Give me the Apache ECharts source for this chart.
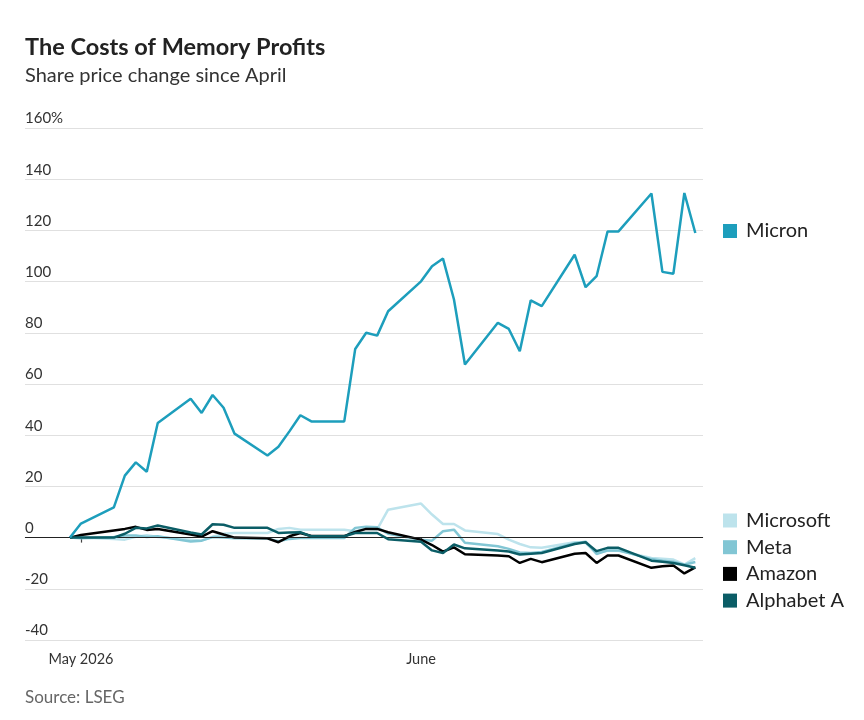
<!DOCTYPE html>
<html>
<head>
<meta charset="utf-8">
<title>The Costs of Memory Profits</title>
<script src="https://cdn.jsdelivr.net/npm/echarts@6/dist/echarts.min.js"></script>
<style>
  html, body { margin: 0; padding: 0; background: #fff; }
  #chart { width: 864px; height: 720px; }
</style>
</head>
<body>
<div id="chart"></div>
<script>
// trading days (holidays carried forward)
var dates = [
    '2026-04-30', '2026-05-01',
    '2026-05-04', '2026-05-05', '2026-05-06', '2026-05-07', '2026-05-08',
    '2026-05-11', '2026-05-12', '2026-05-13', '2026-05-14', '2026-05-15',
    '2026-05-18', '2026-05-19', '2026-05-20', '2026-05-21', '2026-05-22',
    '2026-05-25', '2026-05-26', '2026-05-27', '2026-05-28', '2026-05-29',
    '2026-06-01', '2026-06-02', '2026-06-03', '2026-06-04', '2026-06-05',
    '2026-06-08', '2026-06-09', '2026-06-10', '2026-06-11', '2026-06-12',
    '2026-06-15', '2026-06-16', '2026-06-17', '2026-06-18', '2026-06-19',
    '2026-06-22', '2026-06-23', '2026-06-24', '2026-06-25', '2026-06-26'
];

var micron = [0, 5.5, 11.8, 24.2, 29.4, 25.7, 44.8, 54.2, 48.7, 55.7, 50.7, 40.6, 32.1, 35.5, 41.5, 47.8, 45.4, 45.4, 73.7, 80.0, 78.9, 88.4,
    100.1, 106, 109, 93, 67.6, 83.9, 81.5, 72.8, 92.7, 90.4, 110.5, 97.8, 102.1, 119.6, 119.6, 134.4, 103.8, 103.1, 134.6, 119];
var microsoft = [0, 0, -0.5, -0.8, 0.3, 0.9, 0.2, -0.8, -1.2, 0.3, 1.5, 1.8, 1.8, 3.4, 3.8, 3.1, 3.1, 3.1, 2.5, 3.5, 3.2, 10.9,
    13.3, 9.0, 5.3, 5.3, 2.8, 1.4, -0.8, -2.5, -3.8, -4.0, -1.8, -2.1, -6.0, -5.1, -5.1, -8.0, -8.3, -8.6, -10.5, -8.0];
var meta = [0, -0.3, 0.2, 0.8, 0.8, 0.2, 0.5, -1.5, -1.2, 0.2, 0.0, -0.3, -0.4, -1.4, -0.5, -0.2, -0.2, -0.2, 3.8, 4.2, 4.0, 1.5,
    -0.8, -1.2, 2.5, 3.1, -2.0, -3.4, -4.4, -5.8, -6.0, -5.6, -2.2, -1.6, -6.4, -5.0, -5.0, -8.4, -9.0, -9.4, -10.6, -9.5];
var amazon = [0, 1.0, 2.8, 3.4, 4.2, 3.0, 3.4, 1.2, 0.4, 2.5, 1.2, 0, -0.3, -1.8, 0.5, 1.8, 0.6, 0.6, 2.2, 3.4, 3.4, 2.1,
    -0.8, -2.9, -5.5, -3.8, -6.5, -7.0, -7.3, -9.9, -8.3, -9.6, -6.3, -6.0, -9.9, -7.0, -7.0, -11.8, -11.2, -10.9, -14.0, -11.6];
var alphabet = [0, 0, 0, 1.5, 3.8, 3.6, 4.7, 2.0, 1.2, 5.2, 5.0, 3.8, 3.8, 1.8, 2.0, 2.1, 0.5, 0.5, 1.8, 1.8, 1.8, -0.6,
    -1.6, -5.0, -6.0, -2.7, -4.2, -5.0, -5.4, -6.6, -6.3, -6.0, -2.5, -1.8, -5.3, -4.0, -4.0, -9.0, -9.4, -9.9, -10.8, -11.8];

var monthTicks = ['2026-05-01', '2026-06-01'];

var FONT = 'Lato';
var DAY = 24 * 3600 * 1000;

function ts(s) {
    var p = s.split('-');
    return new Date(+p[0], +p[1] - 1, +p[2]).getTime();
}
function pairs(vals) {
    return dates.map(function (d, i) { return [ts(d), vals[i]]; });
}
function line(name, vals, color, z) {
    return {
        name: name,
        type: 'line',
        data: pairs(vals),
        symbol: 'none',
        z: z,
        lineStyle: { color: color, width: 2.5 },
        itemStyle: { color: color }
    };
}

var series = [
    line('Microsoft', microsoft, '#bde3ec', 2),
    line('Meta', meta, '#82c6d4', 3),
    line('Amazon', amazon, '#000000', 4),
    line('Alphabet A', alphabet, '#0b5d66', 5),
    line('Micron', micron, '#1d9ebc', 6)
];
// zero line
series[0].markLine = {
    silent: true,
    symbol: 'none',
    label: { show: false },
    lineStyle: { color: '#222', width: 1, type: 'solid' },
    data: [{ yAxis: 0 }]
};

var chart = echarts.init(document.getElementById('chart'));
chart.setOption({
    animation: false,
    textStyle: { fontFamily: FONT },
    title: [
        {
            text: 'The Costs of Memory Profits',
            left: 25, top: 35, padding: 0,
            textStyle: { fontFamily: FONT, fontSize: 23.5, fontWeight: 'bold', color: '#222' }
        },
        {
            text: 'Share price change since April',
            left: 25, top: 66, padding: 0,
            textStyle: { fontFamily: FONT, fontSize: 20, fontWeight: 'normal', color: '#333' }
        },
        {
            text: 'Source: LSEG',
            left: 25, top: 689, padding: 0,
            textStyle: { fontFamily: FONT, fontSize: 17, fontWeight: 'normal', color: '#666' }
        }
    ],
    legend: [
        {
            data: ['Micron'],
            left: 718, top: 216,
            icon: 'rect', itemWidth: 14, itemHeight: 14,
            selectedMode: false,
            textStyle: { fontFamily: FONT, fontSize: 20, color: '#222', padding: [0, 0, 0, 4] }
        },
        {
            data: ['Microsoft', 'Meta', 'Amazon', 'Alphabet A'],
            orient: 'vertical',
            left: 718, top: 505,
            itemGap: 5.7,
            icon: 'rect', itemWidth: 14, itemHeight: 14,
            selectedMode: false,
            textStyle: { fontFamily: FONT, fontSize: 20, color: '#222', lineHeight: 21, padding: [0, 0, 0, 4] }
        }
    ],
    grid: { left: 25, right: 161, top: 128, bottom: 80, containLabel: false },
    xAxis: {
        type: 'value',
        min: ts('2026-04-26') - 0.1 * DAY,
        max: ts('2026-06-26') + 0.7 * DAY,
        axisLine: { show: true, lineStyle: { color: '#e0e0e0', width: 1 } },
        splitLine: { show: false },
        axisTick: {
            show: true,
            length: 5,
            customValues: monthTicks.map(ts),
            lineStyle: { color: '#444', width: 1.2 }
        },
        axisLabel: {
            customValues: monthTicks.map(ts),
            margin: 12,
            fontFamily: FONT, fontSize: 14.5, color: '#333',
            formatter: function (v) {
                var d = new Date(v);
                return d.getMonth() === 4 ? 'May 2026' : 'June';
            }
        }
    },
    yAxis: {
        type: 'value',
        min: -40, max: 160, interval: 20,
        axisLine: { show: false },
        axisTick: { show: false },
        splitLine: { lineStyle: { color: '#e0e0e0', width: 1 } },
        axisLabel: {
            inside: true,
            margin: 0,
            align: 'left',
            verticalAlign: 'bottom',
            padding: [0, 0, 2, 0],
            fontFamily: FONT, fontSize: 15, color: '#333',
            formatter: function (v) { return v === 160 ? v + '%' : String(v); }
        }
    },
    series: series
});
</script>
</body>
</html>
